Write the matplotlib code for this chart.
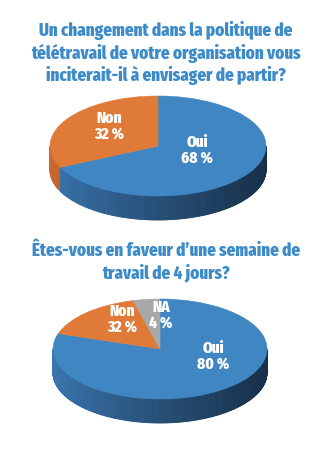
import numpy as np
import matplotlib
matplotlib.use("Agg")
import matplotlib.pyplot as plt
from matplotlib.patches import Polygon
from matplotlib.colors import to_rgb
from matplotlib import font_manager as fm

# ---------------- data ----------------
title1 = ["Un changement dans la politique de",
          "télétravail de votre organisation vous",
          "inciterait-il à envisager de partir?"]
cats1 = ["Oui", "Non"]
vals1 = [68, 32]
labels1 = ["Oui\n68 %", "Non\n32 %"]

title2 = ["Êtes-vous en faveur d\u2019une semaine de",
          "travail de 4 jours?"]
cats2 = ["Oui", "Non", "NA"]
vals2 = [80, 16, 4]
labels2 = ["Oui\n80 %", "Non\n32 %", "NA\n4 %"]

# ---------------- style ----------------
W, H = 332, 456
_avail = {f.name for f in fm.fontManager.ttflist}
_first = next((f for f in ["Fira Sans Extra Condensed", "Barlow Condensed"]
               if f in _avail), None)
FONT = ([_first] if _first else []) + ["DejaVu Sans"]
WEIGHT = 800
TITLE_COLOR = "#3D8BC9"
TOP = {"Oui": "#3F86C2", "Non": "#E07A38", "NA": "#A8A8A8"}
SIDE_L = {"Oui": "#3A78B2", "Non": "#C9692E", "NA": "#8A8A8A"}
SIDE_R = {"Oui": "#17304A", "Non": "#7A3E18", "NA": "#555555"}

fig = plt.figure(figsize=(W / 100, H / 100), dpi=100)
fig.patch.set_facecolor("white")
renderer = fig.canvas.get_renderer()


def fitted_size(text, target_px, base=12):
    t = fig.text(0, 0, text, fontsize=base, fontweight=WEIGHT,
                 family=FONT, fontstretch="condensed")
    w = t.get_window_extent(renderer).width
    t.remove()
    return base * target_px / w


def mix(c1, c2, t):
    a, b = np.array(to_rgb(c1)), np.array(to_rgb(c2))
    return tuple(a + (b - a) * t)


def pie3d(cats, vals, cx, cy, a, b, depth, label_texts, label_pos, lsize):
    pad = 10
    left = (cx - a - pad) / W
    bottom = 1 - (cy + b + depth + pad) / H
    ax = fig.add_axes([left, bottom, (2 * a + 2 * pad) / W,
                       (2 * b + depth + 2 * pad) / H])
    h = depth / b
    fracs = np.array(vals, float) / np.sum(vals)
    cum = np.concatenate([[0], np.cumsum(fracs)])

    thetas = np.linspace(180, 360, 241)
    for t1, t2 in zip(thetas[:-1], thetas[1:]):
        tm = 0.5 * (t1 + t2)
        phi = ((90 - tm) % 360) / 360.0
        idx = int(np.searchsorted(cum, phi, side="right") - 1)
        idx = min(max(idx, 0), len(cats) - 1)
        c = cats[idx]
        s = (np.cos(np.radians(tm)) + 1) / 2
        col = mix(SIDE_L[c], SIDE_R[c], s ** 0.8)
        r1, r2 = np.radians(t1), np.radians(t2)
        poly = [(np.cos(r1), np.sin(r1)), (np.cos(r2), np.sin(r2)),
                (np.cos(r2), np.sin(r2) - h), (np.cos(r1), np.sin(r1) - h)]
        ax.add_patch(Polygon(poly, closed=True, facecolor=col,
                             edgecolor=col, lw=0.6, zorder=1))

    wedges, _ = ax.pie(vals, startangle=90, counterclock=False, radius=1,
                       colors=[TOP[c] for c in cats],
                       wedgeprops=dict(linewidth=0.4))
    for w, c in zip(wedges, cats):
        w.set_edgecolor(TOP[c])
        w.set_zorder(3)
    ax.set_aspect("auto")
    ax.set_xlim(-(a + pad) / a, (a + pad) / a)
    ax.set_ylim(-(b + depth + pad) / b, (b + pad) / b)
    ax.axis("off")

    for txt, (px, py) in zip(label_texts, label_pos):
        fig.text(px / W, 1 - py / H, txt, ha="center", va="center",
                 color="white", fontsize=lsize, fontweight=WEIGHT,
                 family=FONT, fontstretch="condensed", linespacing=0.95)


tsize = fitted_size(title1[1], 270)
lsize = fitted_size("68 %", 32)


def title(lines, ys):
    for ln, y in zip(lines, ys):
        fig.text(0.5, 1 - y / H, ln, ha="center", va="center",
                 color=TITLE_COLOR, fontsize=tsize, fontweight=WEIGHT,
                 family=FONT, fontstretch="condensed")


title(title1, [31, 53, 75])
pie3d(cats1, vals1, cx=158, cy=147, a=108, b=50, depth=24,
      label_texts=labels1, label_pos=[(197, 150), (109, 126)], lsize=lsize)

title(title2, [251, 273])
pie3d(cats2, vals2, cx=160, cy=350, a=107, b=50, depth=24,
      label_texts=labels2, label_pos=[(213, 356), (122, 319), (161, 315)],
      lsize=lsize)

fig.savefig("out.png", dpi=100, facecolor="white")
